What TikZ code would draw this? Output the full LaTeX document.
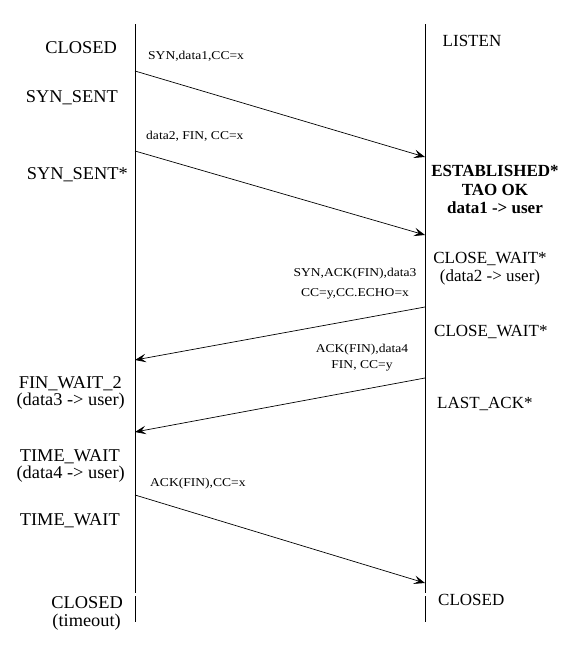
\documentclass[tikz,border=0pt]{standalone}
\usepackage{fontspec}
\setmainfont{Liberation Serif}
\newfontfamily\labfont[FakeStretch=1.13]{Liberation Serif}
\newfontfamily\stfont[FakeStretch=1.02]{Liberation Serif}
\usetikzlibrary{arrows.meta}
\begin{document}
\begin{tikzpicture}[x=1pt,y=-1pt,
  state/.style={font=\stfont\fontsize{18}{20}\selectfont, inner sep=0pt},
  rstate/.style={font=\fontsize{17}{19}\selectfont, inner sep=0pt},
  bstate/.style={font=\fontsize{17}{19}\selectfont\bfseries, inner sep=0pt},
  msg/.style={font=\labfont\fontsize{12}{15}\selectfont, inner sep=0pt},
  life/.style={line width=0.8pt},
  arr/.style={line width=0.7pt, -{Stealth[length=11pt,width=8.5pt,inset=4.5pt]}}]
\useasboundingbox (0,0) rectangle (575,654);
\fill[white] (0,0) rectangle (575,654);

% lifelines
\coordinate (Ltop) at (135,24);
\coordinate (Lg1) at (135,593);
\coordinate (Lg2) at (135,596);
\coordinate (Lbot) at (135,622);
\coordinate (Rtop) at (425,24);
\coordinate (Rg1) at (425,593);
\coordinate (Rg2) at (425,596);
\coordinate (Rbot) at (425,622);
\draw[life] (Ltop) -- (Lg1);
\draw[life] (Lg2) -- (Lbot);
\draw[life] (Rtop) -- (Rg1);
\draw[life] (Rg2) -- (Rbot);

% message end points
\coordinate (m1s) at (135,71);
\coordinate (m1e) at (425,157);
\coordinate (m2s) at (135,151);
\coordinate (m2e) at (425,235);
\coordinate (m3s) at (425,307);
\coordinate (m3e) at (135,360);
\coordinate (m4s) at (425,378);
\coordinate (m4e) at (135,432);
\coordinate (m5s) at (135,495);
\coordinate (m5e) at (425,583);
\draw[arr] (m1s) -- (m1e);
\draw[arr] (m2s) -- (m2e);
\draw[arr] (m3s) -- (m3e);
\draw[arr] (m4s) -- (m4e);
\draw[arr] (m5s) -- (m5e);

% left states
\node[state, anchor=base east] (l1) at (117,53.5) {CLOSED};
\node[state, anchor=base east] (l2) at (118,102) {SYN\_SENT};
\node[state, anchor=base east] (l3) at (128,179) {SYN\_SENT*};
\node[state, anchor=base east] (l4a) at (122,388.5) {FIN\_WAIT\_2};
\node[state, anchor=base east] (l4b) at (125,405) {(data3 -> user)};
\node[state, anchor=base east] (l5a) at (120,461.5) {TIME\_WAIT};
\node[state, anchor=base east] (l5b) at (125,478) {(data4 -> user)};
\node[state, anchor=base east] (l6) at (120,525) {TIME\_WAIT};
\node[state, anchor=base east] (l7a) at (123,608) {CLOSED};
\node[state, anchor=base east] (l7b) at (121,626) {(timeout)};

% right states
\node[rstate, anchor=base] (r1) at (472,46.5) {LISTEN};
\node[bstate, anchor=base] (r2a) at (495,176) {ESTABLISHED*};
\node[bstate, anchor=base] (r2b) at (495,195) {TAO OK};
\node[bstate, anchor=base] (r2c) at (495,213) {data1 -> user};
\node[rstate, anchor=base] (r3a) at (490,263) {CLOSE\_WAIT*};
\node[rstate, anchor=base] (r3b) at (490,281) {(data2 -> user)};
\node[rstate, anchor=base west] (r4) at (434,336) {CLOSE\_WAIT*};
\node[rstate, anchor=base west] (r5) at (437,408) {LAST\_ACK*};
\node[rstate, anchor=base west] (r6) at (438,605) {CLOSED};

% message labels
\node[msg, anchor=base west] (t1) at (148,59) {SYN,data1,CC=x};
\node[msg, anchor=base west] (t2) at (146,139.5) {data2, FIN, CC=x};
\node[msg, anchor=base] (t3a) at (355,276) {SYN,ACK(FIN),data3};
\node[msg, anchor=base] (t3b) at (355,296) {CC=y,CC.ECHO=x};
\node[msg, anchor=base] (t4a) at (362,352) {ACK(FIN),data4};
\node[msg, anchor=base] (t4b) at (362,368) {FIN, CC=y};
\node[msg, anchor=base west] (t5) at (150,486) {ACK(FIN),CC=x};
\end{tikzpicture}
\end{document}
